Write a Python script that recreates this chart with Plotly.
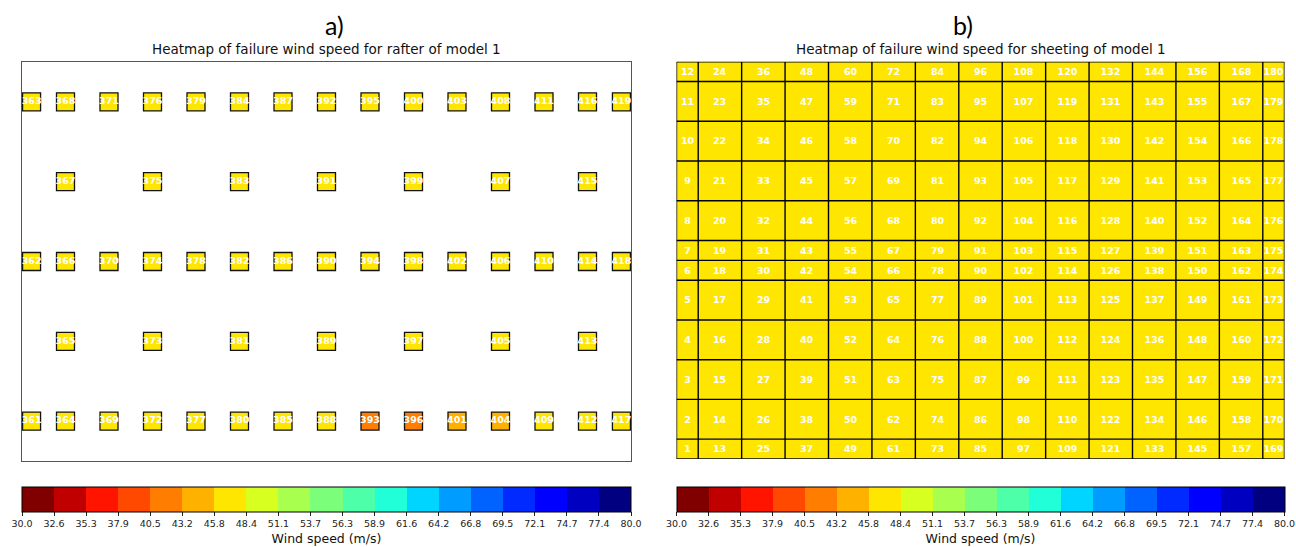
import numpy as np
import plotly.graph_objects as go

W, H = 1296, 547

# ---- wind speed scale -------------------------------------------------
speed_min, speed_max, n_levels = 30.0, 80.0, 19

# ---- rafter panel (bay units along x, row units along y) --------------
rafter_id = [363, 368, 371, 376, 379, 384, 387, 392, 395, 400, 403, 408, 411, 416, 419,
             367, 375, 383, 391, 399, 407, 415,
             362, 366, 370, 374, 378, 382, 386, 390, 394, 398, 402, 406, 410, 414, 418,
             365, 373, 381, 389, 397, 405, 413,
             361, 364, 369, 372, 377, 380, 385, 388, 393, 396, 401, 404, 409, 412, 417]
rafter_x = [0.22, 1, 2, 3, 4, 5, 6, 7, 8, 9, 10, 11, 12, 13, 13.78,
            1, 3, 5, 7, 9, 11, 13,
            0.22, 1, 2, 3, 4, 5, 6, 7, 8, 9, 10, 11, 12, 13, 13.78,
            1, 3, 5, 7, 9, 11, 13,
            0.22, 1, 2, 3, 4, 5, 6, 7, 8, 9, 10, 11, 12, 13, 13.78]
rafter_y = [4.5] * 15 + [3.5] * 7 + [2.5] * 15 + [1.5] * 7 + [0.5] * 15
rafter_speed = [47.2, 47.5, 47.4, 47.6, 47.3, 47.5, 47.4, 47.2, 47.1, 47.3, 47.4, 47.6, 47.5, 47.7, 47.8,
                47.3, 47.5, 47.2, 47.0, 47.1, 47.4, 47.6,
                47.0, 47.2, 47.1, 47.3, 47.0, 47.2, 46.8, 46.6, 46.5, 46.7, 46.9, 47.1, 47.3, 47.4, 47.6,
                46.9, 47.0, 46.8, 46.4, 46.3, 46.9, 47.2,
                46.6, 46.8, 46.7, 46.5, 46.4, 46.2, 46.1, 46.0, 42.1, 42.5, 44.6, 45.0, 46.3, 46.6, 46.9]

# ---- sheeting panel ----------------------------------------------------
sheet_x_edges = [0, 0.5, 1.5, 2.5, 3.5, 4.5, 5.5, 6.5, 7.5, 8.5, 9.5, 10.5, 11.5, 12.5, 13.5, 14]
sheet_y_edges = [0, 0.5, 1.5, 2.5, 3.5, 4.5, 5, 5.5, 6.5, 7.5, 8.5, 9.5, 10]
# rows from bottom (panel 1, 13, 25 ...) to top (panel 12, 24, 36 ...)
sheet_speed = [
    [47.0, 47.1, 47.2, 47.1, 47.0, 47.2, 47.3, 47.1, 47.0, 47.2, 47.1, 47.3, 47.2, 47.1, 47.0],
    [47.2, 47.3, 47.4, 47.3, 47.2, 47.4, 47.5, 47.3, 47.2, 47.4, 47.3, 47.5, 47.4, 47.3, 47.2],
    [47.4, 47.5, 47.6, 47.5, 47.4, 47.6, 47.7, 47.5, 47.4, 47.6, 47.5, 47.7, 47.6, 47.5, 47.4],
    [47.5, 47.6, 47.7, 47.6, 47.5, 47.7, 47.8, 47.6, 47.5, 47.7, 47.6, 47.8, 47.7, 47.6, 47.5],
    [47.4, 47.5, 47.6, 47.5, 47.4, 47.6, 47.7, 47.5, 47.4, 47.6, 47.5, 47.7, 47.6, 47.5, 47.4],
    [47.3, 47.4, 47.5, 47.4, 47.3, 47.5, 47.6, 47.4, 47.3, 47.5, 47.4, 47.6, 47.5, 47.4, 47.3],
    [47.3, 47.4, 47.5, 47.4, 47.3, 47.5, 47.6, 47.4, 47.3, 47.5, 47.4, 47.6, 47.5, 47.4, 47.3],
    [47.4, 47.5, 47.6, 47.5, 47.4, 47.6, 47.7, 47.5, 47.4, 47.6, 47.5, 47.7, 47.6, 47.5, 47.4],
    [47.5, 47.6, 47.7, 47.6, 47.5, 47.7, 47.8, 47.6, 47.5, 47.7, 47.6, 47.8, 47.7, 47.6, 47.5],
    [47.4, 47.5, 47.6, 47.5, 47.4, 47.6, 47.7, 47.5, 47.4, 47.6, 47.5, 47.7, 47.6, 47.5, 47.4],
    [47.2, 47.3, 47.4, 47.3, 47.2, 47.4, 47.5, 47.3, 47.2, 47.4, 47.3, 47.5, 47.4, 47.3, 47.2],
    [47.0, 47.1, 47.2, 47.1, 47.0, 47.2, 47.3, 47.1, 47.0, 47.2, 47.1, 47.3, 47.2, 47.1, 47.0],
]
n_rows, n_cols = len(sheet_y_edges) - 1, len(sheet_x_edges) - 1
# panels are numbered column by column, bottom to top
sheet_id = [[c * n_rows + r + 1 for c in range(n_cols)] for r in range(n_rows)]


# ---- discrete reversed-jet colour scale --------------------------------
def jet(t):
    r = np.interp(t, [0, 0.35, 0.66, 0.89, 1], [0, 0, 1, 1, 0.5])
    g = np.interp(t, [0, 0.125, 0.375, 0.64, 0.91, 1], [0, 0, 1, 1, 0, 0])
    b = np.interp(t, [0, 0.11, 0.34, 0.65, 1], [0.5, 1, 1, 0, 0])
    return "rgb(%d,%d,%d)" % (round(r * 255), round(g * 255), round(b * 255))


level_colors = [jet(1 - k / (n_levels - 1)) for k in range(n_levels)]
colorscale = []
for k, col in enumerate(level_colors):
    colorscale.append([k / n_levels, col])
    colorscale.append([(k + 1) / n_levels, col])

bounds = np.linspace(speed_min, speed_max, n_levels + 1)
bound_text = ["%.1f" % v for v in bounds]

FONT = "DejaVu Sans"


def colorbar(x0, x1):
    return dict(
        orientation="h",
        x=(x0 + x1) / 2 / W, xanchor="center",
        y=1 - 487 / H, yanchor="top",
        len=x1 - x0, lenmode="pixels",
        thickness=25, thicknessmode="pixels",
        xpad=0, ypad=0,
        outlinecolor="black", outlinewidth=1,
        tickmode="array", tickvals=bounds, ticktext=bound_text,
        ticks="outside", ticklen=4, tickcolor="#222", tickwidth=1,
        tickfont=dict(family=FONT, size=9.5, color="#222"),
        title=dict(text="Wind speed (m/s)", side="bottom",
                   font=dict(family=FONT, size=12.5, color="#111")),
    )


fig = go.Figure()

# rafters as square markers
fig.add_trace(go.Scatter(
    x=rafter_x, y=rafter_y, mode="markers+text",
    text=[str(v) for v in rafter_id], textposition="middle center",
    textfont=dict(family=FONT, size=9.5, color="white", weight="bold"),
    marker=dict(symbol="square", size=18, color=rafter_speed, coloraxis="coloraxis",
                line=dict(color="#111", width=1.3)),
    xaxis="x", yaxis="y", hoverinfo="skip", showlegend=False, cliponaxis=False,
))

# sheeting panels
fig.add_trace(go.Heatmap(
    x=sheet_x_edges, y=sheet_y_edges, z=sheet_speed, coloraxis="coloraxis2",
    text=sheet_id, texttemplate="%{text}",
    textfont=dict(family=FONT, size=9.5, color="white", weight="bold"),
    xaxis="x2", yaxis="y2", hoverinfo="skip",
))

# panel outlines
gx, gy = [], []
for xe in sheet_x_edges:
    gx += [xe, xe, None]
    gy += [sheet_y_edges[0], sheet_y_edges[-1], None]
for ye in sheet_y_edges:
    gx += [sheet_x_edges[0], sheet_x_edges[-1], None]
    gy += [ye, ye, None]
fig.add_trace(go.Scatter(
    x=gx, y=gy, mode="lines", line=dict(color="black", width=1.4),
    xaxis="x2", yaxis="y2", hoverinfo="skip", showlegend=False, cliponaxis=False,
))

L0, L1 = 22, 631
R0, R1 = 676.5, 1284.5
hidden = dict(showgrid=False, zeroline=False, showticklabels=False, ticks="")

fig.update_layout(
    width=W, height=H,
    margin=dict(l=0, r=0, t=0, b=0),
    paper_bgcolor="white", plot_bgcolor="white",
    xaxis=dict(domain=[L0 / W, L1 / W], range=[0, 14], showline=True, mirror=True,
               linecolor="#555", linewidth=1, **hidden),
    yaxis=dict(domain=[1 - 461 / H, 1 - 62 / H], range=[0, 5], showline=True, mirror=True,
               linecolor="#555", linewidth=1, **hidden),
    xaxis2=dict(domain=[R0 / W, R1 / W], range=[0, 14], showline=False, **hidden),
    yaxis2=dict(domain=[1 - 459 / H, 1 - 61.7 / H], range=[0, 10], showline=False, **hidden),
    coloraxis=dict(cmin=speed_min, cmax=speed_max, colorscale=colorscale, colorbar=colorbar(L0, L1)),
    coloraxis2=dict(cmin=speed_min, cmax=speed_max, colorscale=colorscale, colorbar=colorbar(R0, R1)),
    annotations=[
        dict(text="a)", x=334 / W, y=1 - 25 / H, xref="paper", yref="paper",
             xanchor="center", yanchor="middle", showarrow=False,
             font=dict(family="Lato", size=25, color="black")),
        dict(text="b)", x=963 / W, y=1 - 25 / H, xref="paper", yref="paper",
             xanchor="center", yanchor="middle", showarrow=False,
             font=dict(family="Lato", size=25, color="black")),
        dict(text="Heatmap of failure wind speed for rafter of model 1",
             x=(L0 + L1) / 2 / W, y=1 - 49 / H, xref="paper", yref="paper",
             xanchor="center", yanchor="middle", showarrow=False,
             font=dict(family=FONT, size=13.5, color="#111")),
        dict(text="Heatmap of failure wind speed for sheeting of model 1",
             x=(R0 + R1) / 2 / W, y=1 - 49 / H, xref="paper", yref="paper",
             xanchor="center", yanchor="middle", showarrow=False,
             font=dict(family=FONT, size=13.5, color="#111")),
    ],
)

fig.write_html("out.html")
